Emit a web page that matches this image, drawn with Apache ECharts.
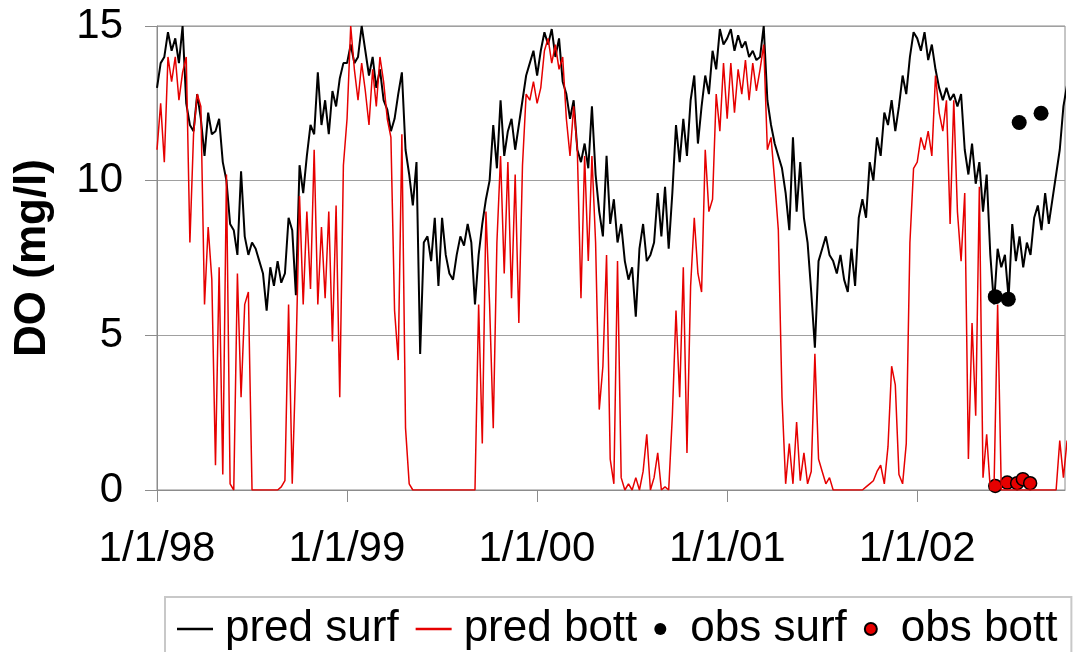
<!DOCTYPE html>
<html>
<head>
<meta charset="utf-8">
<title>DO</title>
<script src="https://cdn.jsdelivr.net/npm/echarts@6/dist/echarts.min.js"></script>
<style>
  html, body { margin: 0; padding: 0; background: #fff; }
  #chart { width: 1084px; height: 652px; }
</style>
</head>
<body>
<div id="chart"></div>
<script>
// ============================================================
// Data: weekly readings (mg/l), one array per year
// x is days since 1/1/98
// ============================================================

var YEAR_LABELS = ['1/1/98', '1/1/99', '1/1/00', '1/1/01', '1/1/02'];
var YEAR_DAYS = [0, 365, 730, 1096, 1461];
var STEP = 365.25 / 52;

var surf98 = [13.0, 13.8, 14.0, 14.8, 14.2, 14.6, 13.8, 15.0, 12.5, 11.8, 11.6, 12.8, 12.0, 10.8, 12.2, 11.5, 11.6, 12.0, 10.6, 10.0,
  8.6, 8.4, 7.6, 10.3, 8.2, 7.6, 8.0, 7.8, 7.4, 7.0, 5.8, 7.2, 6.6, 7.4, 6.7, 7.0, 8.8, 8.4, 6.3, 10.5,
  9.6, 10.8, 11.8, 11.5, 13.5, 11.8, 12.6, 11.5, 12.9, 12.4, 13.3, 13.8];
var surf99 = [13.8, 14.4, 13.8, 14.0, 15.0, 14.2, 13.4, 14.0, 13.0, 13.6, 12.6, 12.3, 11.6, 12.0, 12.8, 13.5, 11.0, 10.2, 9.2, 10.6,
  4.4, 8.0, 8.2, 7.4, 8.8, 6.6, 8.8, 7.6, 7.0, 6.8, 7.6, 8.2, 7.9, 8.6, 8.0, 6.0, 7.6, 8.6, 9.4, 10.0,
  11.8, 10.4, 12.6, 10.8, 11.6, 12.0, 11.0, 11.8, 12.6, 13.4, 13.8, 14.2];
var surf00 = [13.4, 14.2, 14.8, 14.4, 14.9, 14.0, 14.6, 13.2, 12.8, 12.0, 12.6, 11.0, 10.6, 11.2, 10.4, 12.4, 10.2, 9.0, 8.2, 10.8,
  8.6, 9.4, 8.0, 8.6, 7.4, 6.8, 7.2, 5.6, 7.8, 8.6, 7.4, 7.6, 8.0, 9.6, 8.2, 9.8, 7.8, 9.6, 11.8, 10.6,
  12.0, 10.8, 12.6, 13.4, 11.2, 12.4, 13.4, 12.8, 14.2, 13.6, 14.9, 14.4];
var surf01 = [14.6, 14.9, 14.2, 14.7, 14.3, 14.5, 14.0, 14.2, 13.9, 14.0, 15.0, 12.6, 11.8, 11.2, 10.8, 10.4, 9.6, 8.4, 11.4, 9.0,
  10.6, 8.8, 8.0, 6.4, 4.6, 7.4, 7.8, 8.2, 7.6, 7.4, 7.0, 7.6, 6.8, 6.4, 7.8, 6.6, 8.8, 9.4, 8.8, 10.6,
  10.0, 11.4, 10.8, 12.2, 11.8, 12.6, 11.6, 12.4, 13.4, 12.8, 14.0, 14.8];
var surf02 = [14.6, 14.2, 14.8, 13.9, 14.4, 13.6, 13.0, 12.6, 13.0, 12.6, 12.8, 12.4, 12.8, 11.0, 10.2, 11.2, 9.9, 10.6, 9.0, 10.2,
  7.6, 6.0, 7.8, 7.2, 7.6, 6.2, 8.6, 7.4, 8.2, 7.2, 8.0, 7.6, 8.8, 9.2, 8.4, 9.6, 8.6, 9.4, 10.2, 11.0,
  12.4, 13.1];

var bott98 = [11.0, 12.5, 10.6, 14.0, 13.2, 14.0, 12.6, 13.5, 14.0, 8.0, 11.5, 12.8, 12.4, 6.0, 8.5, 6.8, 0.8, 7.2, 0.5, 10.2,
  0.2, 0, 7.0, 3.0, 6.0, 6.4, 0, 0, 0, 0, 0, 0, 0, 0, 0.1, 0.3, 6.0, 0.2, 4.2, 9.5,
  6.0, 9.0, 6.5, 11.0, 6.0, 8.5, 6.2, 9.0, 4.8, 9.2, 3.0, 10.5];
var bott99 = [12.0, 15.0, 13.6, 12.6, 13.8, 12.9, 11.8, 13.6, 12.4, 14.0, 13.2, 12.0, 11.4, 5.8, 4.2, 11.5, 2.0, 0.2, 0, 0,
  0, 0, 0, 0, 0, 0, 0, 0, 0, 0, 0, 0, 0, 0, 0, 0, 6.0, 1.5, 9.0, 6.0,
  2.0, 8.0, 10.8, 7.0, 10.6, 6.2, 10.2, 5.4, 10.5, 12.8, 12.6, 13.2];
var bott00 = [12.5, 13.0, 14.2, 14.6, 13.8, 14.4, 13.6, 14.0, 12.0, 10.8, 12.4, 11.0, 6.2, 10.8, 7.4, 10.8, 8.0, 2.6, 4.0, 7.6,
  1.0, 0.2, 7.4, 0.4, 0, 0.2, 0, 0.4, 0, 0.6, 1.8, 0, 0.4, 1.2, 0, 0.1, 0, 2.4, 5.8, 3.0,
  7.2, 1.2, 6.6, 8.8, 7.0, 6.4, 11.0, 9.0, 9.4, 12.8, 11.6, 13.8];
var bott01 = [12.0, 13.8, 12.2, 13.6, 12.8, 13.9, 12.6, 13.8, 12.9, 13.6, 14.4, 11.0, 11.4, 10.0, 8.4, 3.0, 0.2, 1.5, 0.2, 2.2,
  0.3, 1.2, 0.2, 0.6, 4.4, 1.0, 0.6, 0.2, 0.4, 0, 0, 0, 0, 0, 0, 0, 0, 0, 0.1, 0.2,
  0.3, 0.6, 0.8, 0.2, 1.4, 4.0, 3.4, 0.5, 0.2, 1.5, 8.0, 10.4];
var bott02 = [10.6, 11.4, 11.0, 11.6, 10.8, 13.4, 12.2, 11.6, 12.6, 8.6, 12.6, 9.0, 7.4, 9.6, 1.0, 5.4, 2.4, 9.8, 0.4, 1.8,
  0, 0, 6.0, 0, 0, 0, 0, 0, 0, 0, 0, 0, 0, 0, 0, 0, 0, 0, 0, 1.6,
  0.4, 1.6];

var obsSurfDays = [1611, 1636, 1657, 1699];
var obsSurfVals = [6.25, 6.17, 11.88, 12.18];
var obsBottDays = [1611, 1634, 1653, 1664, 1678];
var obsBottVals = [0.13, 0.24, 0.22, 0.35, 0.22];

// ============================================================
// Helpers
// ============================================================

function weeklyPairs(years) {
  var out = [];
  years.forEach(function(vals, y) {
    vals.forEach(function(v, k) {
      out.push([(y * 52 + k) * STEP, v]);
    });
  });
  return out;
}

function zipPairs(xs, ys) {
  return xs.map(function(x, i) { return [x, ys[i]]; });
}

var FONT = '"Liberation Sans", Arial, sans-serif';
var RED = '#e60000';
var LINE_ICON = 'path://M0,0H36V2.4H0Z';

// ============================================================
// Chart
// ============================================================

var chart = echarts.init(document.getElementById('chart'), null, { renderer: 'canvas' });

chart.setOption({
  animation: false,
  textStyle: { fontFamily: FONT, color: '#000' },
  grid: {
    left: 157, right: 19, top: 26, bottom: 162,
    show: true, borderColor: '#8c8c8c', borderWidth: 1
  },
  legend: {
    left: 165,
    top: 597,
    padding: [10, 14, 30, 12],
    borderColor: '#c8c8c8',
    borderWidth: 2,
    itemWidth: 36,
    itemHeight: 12,
    itemGap: 17,
    textStyle: { fontFamily: FONT, fontSize: 44, color: '#000', padding: [0, 0, 0, 7] },
    data: [
      { name: 'pred surf', icon: LINE_ICON },
      { name: 'pred bott', icon: LINE_ICON },
      { name: 'obs surf', icon: 'circle', itemStyle: { borderWidth: 0 } },
      { name: 'obs bott', icon: 'circle' }
    ]
  },
  xAxis: {
    type: 'value',
    min: 0,
    max: 1745,
    axisLine: { show: true, lineStyle: { color: '#8c8c8c', width: 1 } },
    axisTick: { show: true, length: 12, customValues: YEAR_DAYS, lineStyle: { color: '#8c8c8c' } },
    splitLine: { show: false },
    axisLabel: {
      customValues: YEAR_DAYS,
      margin: 38,
      fontSize: 42,
      fontFamily: FONT,
      color: '#000',
      formatter: function(v) {
        var i = YEAR_DAYS.indexOf(v);
        return i >= 0 ? YEAR_LABELS[i] : '';
      }
    }
  },
  yAxis: {
    type: 'value',
    min: 0,
    max: 15,
    interval: 5,
    name: 'DO (mg/l)',
    nameLocation: 'middle',
    nameGap: 102,
    nameTextStyle: { fontFamily: FONT, fontSize: 44, fontWeight: 'bold', color: '#000' },
    axisLine: { show: true, lineStyle: { color: '#8c8c8c', width: 1 } },
    axisTick: { show: true, length: 12, lineStyle: { color: '#8c8c8c' } },
    splitLine: { show: true, lineStyle: { color: '#a0a0a0', width: 1 } },
    axisLabel: { margin: 34, fontSize: 42, fontFamily: FONT, color: '#000' }
  },
  series: [
    {
      name: 'pred surf',
      type: 'line',
      symbol: 'none',
      data: weeklyPairs([surf98, surf99, surf00, surf01, surf02]),
      lineStyle: { color: '#000', width: 2 },
      itemStyle: { color: '#000' }
    },
    {
      name: 'pred bott',
      type: 'line',
      symbol: 'none',
      data: weeklyPairs([bott98, bott99, bott00, bott01, bott02]),
      lineStyle: { color: RED, width: 1.5 },
      itemStyle: { color: RED }
    },
    {
      name: 'obs surf',
      type: 'scatter',
      symbolSize: 15,
      data: zipPairs(obsSurfDays, obsSurfVals),
      itemStyle: { color: '#000', opacity: 1 }
    },
    {
      name: 'obs bott',
      type: 'scatter',
      symbolSize: 13,
      data: zipPairs(obsBottDays, obsBottVals),
      itemStyle: { color: RED, borderColor: '#000', borderWidth: 1.5, opacity: 1 }
    }
  ]
});
</script>
</body>
</html>
